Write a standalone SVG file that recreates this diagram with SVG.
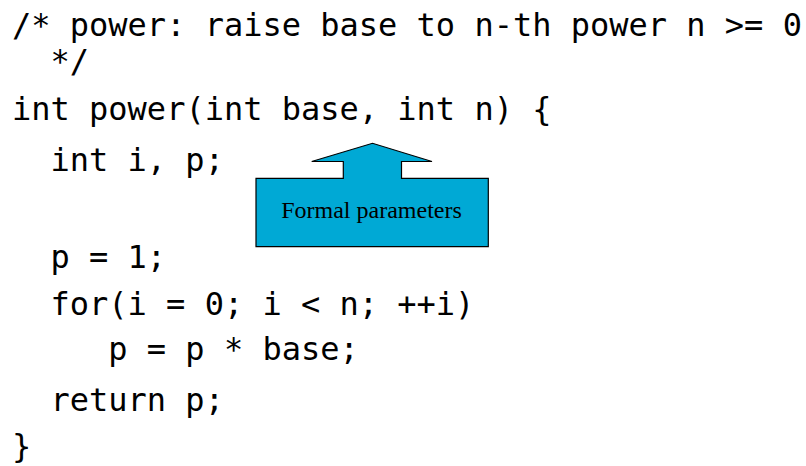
<svg xmlns="http://www.w3.org/2000/svg" width="806" height="466" viewBox="0 0 806 466">
  <style>
    .code { font-family: "DejaVu Sans Mono", "Liberation Mono", monospace; font-size: 32px; fill: #000; }
    .callout { fill: #00a9d5; stroke: #000; stroke-width: 1.2; stroke-linejoin: miter; }
    .label { font-family: "Liberation Serif", "Times New Roman", serif; font-size: 24px; fill: #000; text-anchor: middle; }
  </style>
  <rect width="806" height="466" fill="#fff"/>

  <!-- C source listing; indentation is set by x (one column = 19.27px) -->
  <g id="code" class="code">
    <text x="12" y="36">/* power: raise base to n-th power n &gt;= 0</text>
    <text x="50.5" y="72">*/</text>
    <text x="12" y="120">int power(int base, int n) {</text>
    <text x="50.5" y="171">int i, p;</text>
    <text x="50.5" y="268">p = 1;</text>
    <text x="50.5" y="315">for(i = 0; i &lt; n; ++i)</text>
    <text x="108.3" y="360">p = p * base;</text>
    <text x="50.5" y="411">return p;</text>
    <text x="12" y="457">}</text>
  </g>

  <!-- Up-arrow callout pointing at the parameter list -->
  <g id="formal-parameters">
    <polygon class="callout" points="256,178.3 343.3,178.3 343.3,161.5 311.7,161.5 372.5,143.3 432,161.5 401.5,161.5 401.5,178.3 488.3,178.3 488.3,246.7 256,246.7"/>
    <text class="label" x="371.5" y="217.5">Formal parameters</text>
  </g>
</svg>
